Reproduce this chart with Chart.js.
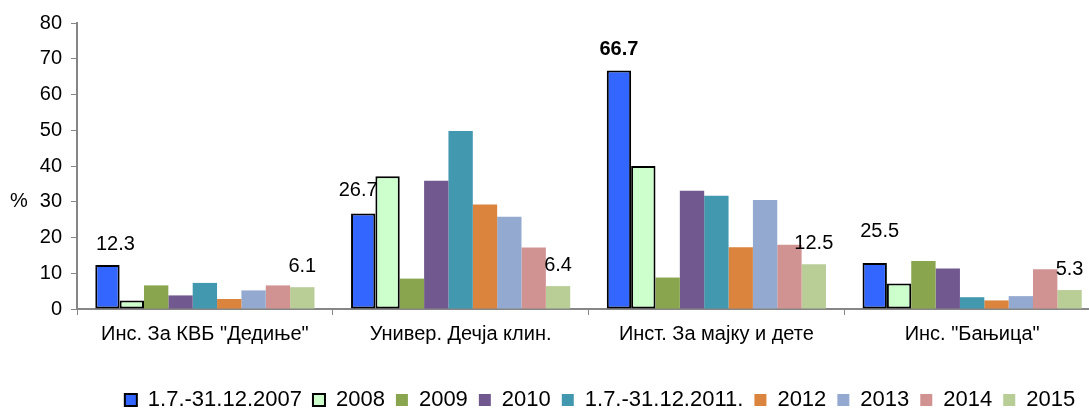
<!DOCTYPE html>
<html>
<head>
<meta charset="utf-8">
<script src="https://cdn.jsdelivr.net/npm/chart.js@4/dist/chart.umd.min.js"></script>
<style>
  html, body { margin: 0; padding: 0; overflow: hidden; background: #fff; }
  canvas { display: block; }
</style>
</head>
<body>
<canvas id="bolnice" width="1200" height="421"></canvas>
<script>
const categories = ['Инс. За КВБ "Дедиње"', 'Универ. Дечја клин.', 'Инст. За мајку и дете', 'Инс. "Бањица"'];
const seriesNames = ['1.7.-31.12.2007', '2008', '2009', '2010', '1.7.-31.12.2011.', '2012', '2013', '2014', '2015'];

const v2007 = [12.3, 26.7, 66.7, 12.9];
const v2008 = [2.4, 37.1, 40.0, 7.1];
const v2009 = [6.6, 8.5, 8.8, 13.4];
const v2010 = [3.8, 35.9, 33.1, 11.3];
const v2011 = [7.3, 49.8, 31.7, 3.3];
const v2012 = [2.8, 29.2, 17.3, 2.4];
const v2013 = [5.2, 25.8, 30.5, 3.6];
const v2014 = [6.6, 17.2, 18.0, 11.1];
const v2015 = [6.1, 6.4, 12.5, 5.3];

// natpisi iznad prve i poslednje serije
const labels2007 = ['12.3', '26.7', '66.7', '25.5'];
const labels2015 = ['6.1', '6.4', '12.5', '5.3'];

const yTicks = [0, 10, 20, 30, 40, 50, 60, 70, 80];

const boje = ['#3366FF', '#CCFFCC', '#89A54E', '#71588F', '#4198AF', '#DB843D', '#93A9CF', '#D19392', '#B9CD96'];
const sveVrednosti = [v2007, v2008, v2009, v2010, v2011, v2012, v2013, v2014, v2015];

const FONT = 'Liberation Sans, Arial, sans-serif';
Chart.defaults.color = '#000';
Chart.defaults.font.family = FONT;

const datasets = sveVrednosti.map((vals, i) => ({
    label: seriesNames[i],
    data: vals,
    backgroundColor: boje[i],
    borderColor: i < 2 ? '#000' : boje[i],
    borderWidth: i < 2 ? 2 : 0,
    borderSkipped: false,
    categoryPercentage: 0.857,
    barPercentage: 1.0,
    yAxisID: 'y'
}));

// pomeraji natpisa (dx, dy) u pikselima
const pomeraj2007 = [[8, 0], [-5, -2], [0, 0], [5, -10]];

const natpisi = {
    id: 'natpisi',
    afterDatasetsDraw(chart) {
        const ctx = chart.ctx;
        ctx.save();
        ctx.textAlign = 'center';
        ctx.textBaseline = 'middle';
        ctx.fillStyle = '#000';
        const prva = chart.getDatasetMeta(0).data;
        prva.forEach((bar, i) => {
            ctx.font = (i === 2 ? 'bold ' : '') + '20px ' + FONT;
            ctx.fillText(labels2007[i], bar.x + pomeraj2007[i][0], bar.y - 21 + pomeraj2007[i][1]);
        });
        const zadnja = chart.getDatasetMeta(8).data;
        ctx.font = '20px ' + FONT;
        zadnja.forEach((bar, i) => {
            ctx.fillText(labels2015[i], bar.x, bar.y - 21);
        });
        // oznaka % levo od ose
        ctx.font = '20px ' + FONT;
        ctx.fillText('%', 19, chart.scales.y.getPixelForValue(30));
        ctx.restore();
    }
};

new Chart(document.getElementById('bolnice'), {
    type: 'bar',
    data: { labels: categories, datasets },
    options: {
        responsive: false,
        maintainAspectRatio: false,
        animation: false,
        layout: { padding: { top: 23, left: 0, right: 0, bottom: 0 } },
        plugins: {
            legend: {
                position: 'bottom',
                labels: {
                    boxWidth: 12,
                    boxHeight: 12,
                    padding: 11,
                    font: { size: 22, family: FONT },
                    color: '#000'
                }
            },
            tooltip: { enabled: false },
            title: { display: false }
        },
        scales: {
            x: {
                afterFit(s) { s.height = 69; },
                grid: {
                    offset: true,
                    drawOnChartArea: false,
                    tickLength: 6,
                    color: '#868686'
                },
                border: { color: '#868686', width: 2 },
                ticks: {
                    padding: 7,
                    maxRotation: 0,
                    autoSkip: false,
                    font: { size: 20, family: FONT },
                    color: '#000'
                }
            },
            y: {
                position: 'left',
                min: 0,
                max: 80,
                afterFit(s) { s.width = 77; },
                afterBuildTicks(s) { s.ticks = yTicks.map(v => ({ value: v })); },
                grid: {
                    drawOnChartArea: false,
                    tickLength: 6,
                    color: '#868686'
                },
                border: { color: '#868686', width: 2 },
                ticks: {
                    padding: 9,
                    font: { size: 20, family: FONT },
                    color: '#000'
                }
            },
            // prazna osa desno, samo da drzi mesto
            desno: {
                type: 'linear',
                position: 'right',
                display: true,
                afterFit(s) { s.width = 100; },
                grid: { display: false },
                border: { display: false },
                ticks: { display: false }
            }
        }
    },
    plugins: [natpisi]
});
</script>
</body>
</html>
